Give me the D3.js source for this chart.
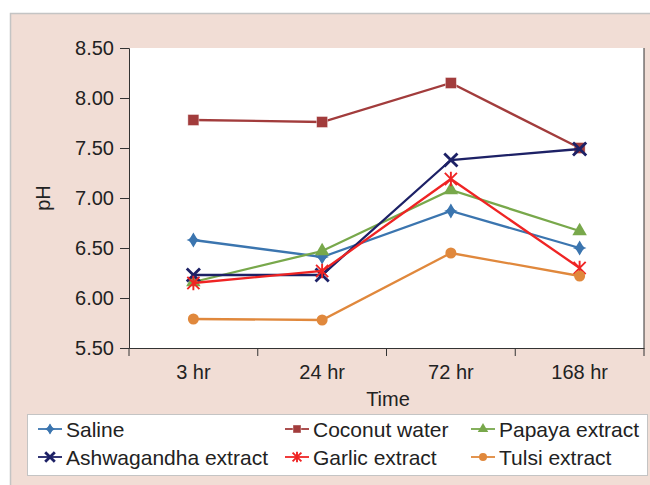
<!DOCTYPE html>
<html>
<head>
<meta charset="utf-8">
<script src="https://cdn.jsdelivr.net/npm/d3@7"></script>
<style>
  body { margin: 0; background: #fff; }
  svg { display: block; font-family: "Liberation Sans", Arial, sans-serif; }
</style>
</head>
<body>
<svg id="chart" width="650" height="485"></svg>
<script>
// ---- data ----
const times = ["3 hr", "24 hr", "72 hr", "168 hr"];
const yTicks = [5.5, 6.0, 6.5, 7.0, 7.5, 8.0, 8.5];

const saline      = [6.58, 6.41, 6.87, 6.50];
const coconut     = [7.78, 7.76, 8.15, 7.50];
const papaya      = [6.16, 6.47, 7.08, 6.67];
const ashwagandha = [6.23, 6.23, 7.38, 7.49];
const garlic      = [6.15, 6.27, 7.19, 6.30];
const tulsi       = [5.79, 5.78, 6.45, 6.22];

const seriesNames = ["Saline", "Coconut water", "Papaya extract", "Ashwagandha extract", "Garlic extract", "Tulsi extract"];
const seriesValues = [saline, coconut, papaya, ashwagandha, garlic, tulsi];
const seriesColors = ["#3b75af", "#a23c3c", "#78a84b", "#1d2166", "#ef2424", "#e0883c"];
const seriesMarkers = ["diamond", "square", "triangle", "x", "asterisk", "circle"];

// ---- layout ----
const width = 650, height = 485;
const plotLeft = 129, plotRight = 644, plotTop = 48, plotBottom = 348;
const textColor = "#222";

const svg = d3.select("#chart");

// outer panel
svg.append("rect")
  .attr("x", 10.5).attr("y", 13.5)
  .attr("width", width).attr("height", height)
  .attr("fill", "#f1ddd5")
  .attr("stroke", "#c4c4c4").attr("stroke-width", 1.5);

// plot area
svg.append("rect")
  .attr("x", plotLeft).attr("y", plotTop)
  .attr("width", plotRight - plotLeft).attr("height", plotBottom - plotTop)
  .attr("fill", "#fff");
svg.append("line")
  .attr("x1", plotRight).attr("x2", plotRight)
  .attr("y1", plotTop).attr("y2", plotBottom)
  .attr("stroke", "#333").attr("stroke-width", 1);

const x = d3.scaleBand().domain(times).range([plotLeft, plotRight]);
const y = d3.scaleLinear().domain([5.5, 8.5]).range([plotBottom, plotTop]);

// y axis
const yAxis = svg.append("g")
  .attr("transform", `translate(${plotLeft},0)`)
  .call(d3.axisLeft(y).tickValues(yTicks).tickFormat(d3.format(".2f")).tickSize(9).tickPadding(6));
yAxis.select(".domain").attr("stroke", "#333");
yAxis.selectAll(".tick line").attr("stroke", "#333");
yAxis.selectAll("text").attr("font-size", 20).attr("fill", textColor)
  .attr("font-family", "Liberation Sans, Arial, sans-serif");

// x axis with ticks at band edges
const xAxis = svg.append("g")
  .attr("transform", `translate(0,${plotBottom})`)
  .call(d3.axisBottom(x).tickSize(0).tickPadding(17));
xAxis.select(".domain").attr("stroke", "#333");
xAxis.selectAll("text").attr("font-size", 20).attr("fill", textColor)
  .attr("font-family", "Liberation Sans, Arial, sans-serif");
const edges = times.map(t => x(t)).concat([x(times[times.length - 1]) + x.bandwidth()]);
xAxis.selectAll(".edge").data(edges).enter().append("line")
  .attr("x1", d => d).attr("x2", d => d)
  .attr("y1", 0).attr("y2", 8)
  .attr("stroke", "#333");

// axis titles
svg.append("text")
  .attr("x", 388).attr("y", 406)
  .attr("text-anchor", "middle").attr("font-size", 20).attr("fill", textColor)
  .text("Time");
svg.append("text")
  .attr("transform", `translate(50,${(plotTop + plotBottom) / 2}) rotate(-90)`)
  .attr("text-anchor", "middle").attr("font-size", 20).attr("fill", textColor)
  .text("pH");

// marker drawing
function drawMarker(g, type, color, size) {
  const s = size;
  if (type === "square") {
    g.append("rect").attr("x", -s / 2).attr("y", -s / 2).attr("width", s).attr("height", s)
      .attr("fill", color).attr("stroke", "#fff").attr("stroke-opacity", 0.5).attr("stroke-width", 0.8);
  } else if (type === "diamond") {
    const r = s * 0.62;
    g.append("path")
      .attr("d", `M0,${-r}Q1.5,-1.5 ${r},0Q1.5,1.5 0,${r}Q-1.5,1.5 ${-r},0Q-1.5,-1.5 0,${-r}Z`)
      .attr("fill", color);
    g.append("path").attr("d", d3.symbol(d3.symbolDiamond, s * s * 0.55)()).attr("fill", color);
  } else if (type === "triangle") {
    g.append("path").attr("d", d3.symbol(d3.symbolTriangle, s * s * 0.75)()).attr("fill", color);
  } else if (type === "circle") {
    g.append("circle").attr("r", s / 2).attr("fill", color);
  } else if (type === "x") {
    const r = s * 0.6;
    g.append("path").attr("d", `M${-r},${-r}L${r},${r}M${-r},${r}L${r},${-r}`)
      .attr("stroke", color).attr("stroke-width", 2.8);
  } else if (type === "asterisk") {
    const r = s * 0.55;
    g.append("path").attr("d", `M${-r},${-r}L${r},${r}M${-r},${r}L${r},${-r}M0,${-r * 1.2}L0,${r * 1.2}`)
      .attr("stroke", color).attr("stroke-width", 1.9);
  }
}

const line = d3.line()
  .x((d, i) => x(times[i]) + x.bandwidth() / 2)
  .y(d => y(d));

// series
seriesValues.forEach((vals, si) => {
  const color = seriesColors[si];
  const g = svg.append("g");
  g.append("path").datum(vals)
    .attr("d", line)
    .attr("fill", "none")
    .attr("stroke", color)
    .attr("stroke-width", 2.3);
  vals.forEach((v, i) => {
    const mg = g.append("g")
      .attr("transform", `translate(${x(times[i]) + x.bandwidth() / 2},${y(v)})`);
    drawMarker(mg, seriesMarkers[si], color, 11);
  });
});

// legend
svg.append("rect")
  .attr("x", 27.5).attr("y", 414.5).attr("width", 620).attr("height", 61)
  .attr("fill", "#fff").attr("stroke", "#c4c4c4").attr("stroke-width", 1);

const legendCols = [38, 285, 471];
const legendRows = [429, 457];
seriesNames.forEach((name, si) => {
  const col = si % 3, row = Math.floor(si / 3);
  const lg = svg.append("g")
    .attr("transform", `translate(${legendCols[col]},${legendRows[row]})`);
  lg.append("line").attr("x1", 0).attr("x2", 24).attr("y1", 0).attr("y2", 0)
    .attr("stroke", seriesColors[si]).attr("stroke-width", 1.8);
  const mg = lg.append("g").attr("transform", "translate(12,0)");
  drawMarker(mg, seriesMarkers[si], seriesColors[si], 8);
  lg.append("text")
    .attr("x", 28).attr("y", 7.5)
    .attr("font-size", 21).attr("fill", textColor)
    .text(name);
});
</script>
</body>
</html>
